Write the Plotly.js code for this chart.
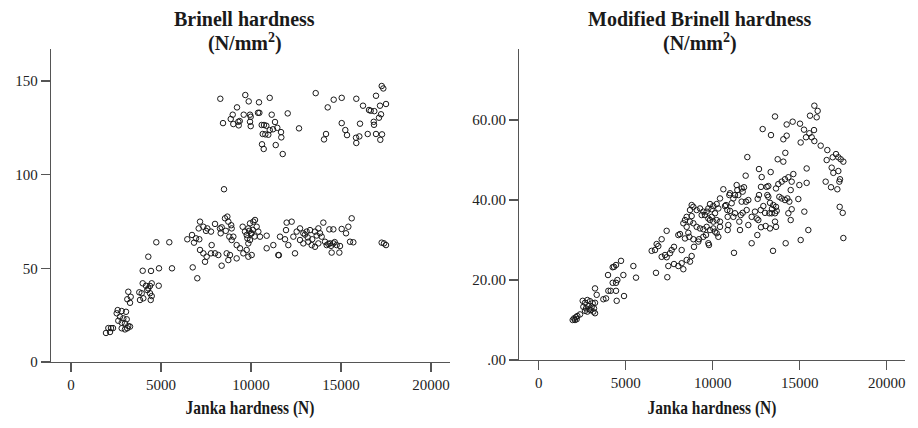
<!DOCTYPE html>
<html>
<head>
<meta charset="utf-8">
<script src="https://cdn.plot.ly/plotly-3.0.1.min.js"></script>
<style>html,body{margin:0;padding:0;background:#fff;}#chart{width:918px;height:428px;}</style>
</head>
<body>
<div id="chart"></div>
<script>
// ---------- Left panel: Brinell hardness vs Janka hardness ----------
var jankaLeft = [
  // low cluster
  1944,2074,2222,2333,2167, 2594,2817,3056,2539,2722,2906,3095,2628,2817,2999,3183,3278,2817,2999,3128,
  3183,3317,3128,3278, 3795,3928,3834,4017,3983,4167,4295,4389,4484,4239,4389,4484,4428,4873,
  3983,4445,4889,4295,4739,5462,5611,
  // lower band, left part
  6462,6723,6834,6945,7128,6762,7017,7095, 8500,
  // lower band
  7167,7352,7574,7778,8000,8278,8371,8556,8686,8741,8926,8315,8797,8926,7815,7167,7352,7537,7778,8000,
  8186,8649,8834,9204,7445,8371,8741,9019,9204,9389,9537,9667,9760,9852,9945,10038,10130,10223,10315,10408,
  10501,9945,9852,9575,9852,10038,9760,10871,10871,11241,11519,11612,11945,11982,12260,11890,12075,12353,12538,12723,
  12908,13093,13279,13556,13742,13834,13927,12723,12908,13186,13371,13556,12445,13742,14019,14112,14205,14390,14575,14760,
  14945,14353,14575,15038,15408,15594,15279,15501,15686,14482,14908,17260,17390,17501,
  9900,10000,10100,9800,10200,13000,13150,13400,13650,14300,14450,14650,11550,8900,8600,7500,
  // upper cluster
  8295,8445,9223,8984,8873,9017,9295, 9684,9873,10445,11040, 9373,9317,9595,9945,9984,9945,9984,10390,10465,
  11151,12040, 10595,10723,10851, 11334,11462,11668,11684, 10651,10795,10962, 11040,11223, 10612,10706, 11373, 11762, 12668,
  13595,14262,14595,15040,15851,16223,16556,16651,16851,16945,17262,17351,17167,17501,17223,17112,16818,16834,16056,15040,
  15240,15334,14168,14057,15834,16018,15851,16484,16945,17279,17184
];
var brinellLeft = [
  15.5,18.1,18.1,18.1,16.0, 27.7,27.2,26.8,26.0,24.2,23.3,22.8,22.0,21.0,20.6,19.2,18.9,18.0,17.4,18.0,
  37.5,34.8,33.5,31.6, 37.2,36.7,33.1,34.0,42.0,40.7,39.3,40.6,42.0,38.4,36.7,35.2,33.1,40.7,
  48.7,48.6,50.0,56.2,63.9,63.9,50.0,
  65.5,67.8,63.7,66.0,65.5,50.5,44.7,71.3, 92.2,
  74.9,72.2,71.3,69.6,73.7,71.3,71.9,76.7,77.6,74.9,71.3,68.7,66.9,65.1,62.4,59.8,58.0,56.2,58.0,58.0,
  57.1,58.0,57.1,55.3,53.5,51.4,54.4,66.9,62.4,60.7,72.2,69.6,67.8,71.3,74.0,68.7,74.9,75.8,72.2,69.6,
  66.9,65.1,63.3,58.0,56.2,57.1,59.8,67.4,60.7,62.4,57.1,66.9,70.4,74.4,74.9,65.5,62.4,66.9,69.6,71.3,
  68.7,69.6,70.4,69.6,71.3,68.7,66.9,65.1,63.3,64.2,62.4,61.5,58.0,63.3,74.4,64.2,62.4,63.3,63.3,62.4,
  61.9,70.8,70.8,71.0,72.2,76.7,68.7,64.2,63.9,58.4,58.4,63.7,63.3,62.4,
  70.0,68.5,70.5,66.0,67.0,68.0,66.5,65.5,67.5,63.0,62.0,64.0,57.0,73.0,70.0,70.0,
  140.5,127.5,135.9,132.0,129.7,127.0,128.2, 142.5,139.1,138.6,141.0, 128.6,126.3,132.0,132.0,130.9,128.2,125.9,133.0,133.0,
  132.0,132.7, 126.5,126.5,126.1, 128.1,125.0,122.7,119.9, 121.7,121.5,121.3, 123.8,124.2, 116.2,113.7, 115.8, 111.0, 124.7,
  143.5,135.9,140.0,141.0,140.5,136.8,134.5,134.1,133.9,142.1,147.3,146.0,136.8,137.7,132.2,130.4,128.2,126.6,127.2,127.5,
  123.8,121.1,121.7,118.8,119.7,120.4,116.9,121.7,121.7,121.5,118.6
];

// ---------- Right panel: Modified Brinell hardness vs Janka hardness ----------
var jankaRight = [
  1953,2030,2145,2222,2087,2183,2375,
  2528,2662,2796,2950,3103,3237,2566,2720,2854,2988,3141,3237,2662,2796,2911,3045,3180,3237,3333,
  3716,3869,4003,4138,3984,4252,4329,4444,4252,4444,4521,4444,4482,4731,4866,4904,5440,5594,
  15842,16033,15593,15976,13581,12872,13351,14252,14596,15018,15248,15554,15823,15363,15689,15842,15056,14252,14060,16206,
  16589,17087,16896,17221,17356,17509,16551,16838,16934,17221,17317,17279,16493,16800,17164,17298,17471,17509,14175,13734,
  14060,15401,13332,12661,12815,11991,11895,14635,14348,14156,13964,13773,15401,14980,14539,14482,13638,13198,13102,13140,
  13198,12776,12661,13294,13485,13638,13408,13677,13830,13964,14156,14290,14405,14539,14348,14482,14922,15267,15497,15056,
  14194,13466,12910,12757,12584,13006,13255,13389,13581,13581,13638,13294,13044,12776,12565,12240,11224,12431,12240,12527,
  12623,12048,11569,11531,11608,11722,11952,11914,11665,11473,11282,11416,11665,11799,11378,11722,12048,
  10611,10956,10994,11186,11090,10994,10707,10764,10841,10860,10860,10899,11186,11282,10420,10324,10228,10036,9941,9845,
  9749,9653,9557,9462,9366,9270,9078,8887,8791,8695,8504,8408,8312,8504,8695,8887,9078,9270,9462,9653,
  9845,10036,10132,10228,10324,10420,10420,10228,10036,9845,9749,9941,10132,9615,9462,9174,8887,8657,8408,8120,
  8025,8791,8695,8504,8216,8025,7776,7450,7354,7546,7641,7258,7067,6875,6779,6683,6492,7067,7354,7776,
  8216,8312,7392,6741,9749,9787,8925,9212,8599,8791
];
var modBrinellRight = [
  10,10.4,10.7,11,10,10.2,11.4,
  14.8,14.3,15,14.7,14.2,14.3,13.3,12.9,13.5,12.5,12.1,11.7,12.3,12.1,12.7,13.3,12.9,17.9,16.3,
  15.2,15.4,17.3,17.3,21.25,23.2,23.3,23.75,19.3,19.3,20,17.3,14.8,24.8,21.25,16,23.5,20.6,
  63.6,62.3,61.1,60.7,60.9,57.75,56.25,58.9,59.6,59.1,57.6,56.7,57.5,55.7,55.7,54.75,54.4,56.1,55.2,53.6,
  52.5,51.5,50.7,50.7,50.2,49.6,50,48.1,46.8,47.25,45.2,44.6,44.6,43.2,42.7,38.3,36.8,30.5,51.8,50.2,
  49.6,47.9,47,47.75,45.75,50.75,46.1,46.5,45.7,45.2,44.6,44,44.3,43.75,44.6,42.5,42.9,43.5,43.3,41.25,
  40.8,43.3,41.25,39.3,38.75,38.3,37.8,37.3,40.8,40.4,40,40.4,39.6,37.7,36.7,35,40.25,37.1,32.5,30,
  29.2,27.3,38.5,37.5,40.3,36.8,36.7,36.7,36.7,34.6,33.3,32.9,33.5,33.2,31.25,29.2,26.8,37.1,35.8,35.4,
  35,33.75,32.5,34.6,36.25,36.8,37.5,39.6,39.6,41.25,41.25,42.5,42.9,43.2,43.75,42.1,40,
  42.7,41.25,41.7,40.4,39.2,37.3,38.5,38.75,37.5,35.8,32.5,33.75,35.8,36.7,40.4,37.9,39,38.5,37.7,39,
  37.9,37.1,36.25,37.1,36.25,37.9,37.5,38.3,38.75,37.5,35.8,35,34.2,33.3,34.6,34.2,33.3,32.9,32.7,33.3,
  32.5,32.9,32.1,31.7,30.8,33.3,34.6,35,34.6,35,35.4,35.8,36.7,31.25,30.8,29.6,30.2,30.8,30.4,31.5,
  31.25,26,24.6,25,24.2,23.5,24,23.5,25.7,26.7,27.5,26.25,25.8,28.5,29,27.5,27.3,30.2,32.3,28.3,
  27.5,22.7,20.7,21.8,29.2,28.75,28.3,30.2,31.8,36
];

var xTickVals = [0, 5000, 10000, 15000, 20000];
var xTickText = ["0", "5000", "10000", "15000", "20000"];
var yLeftTickVals = [0, 50, 100, 150];
var yLeftTickText = ["0", "50", "100", "150"];
var yRightTickVals = [0, 20, 40, 60];
var yRightTickText = [".00", "20.00", "40.00", "60.00"];

var W = 918, H = 428;
var serif = "Liberation Serif, Times New Roman, serif";
var markerStyle = {symbol: "circle-open", size: 5.5, color: "#1a1a1a", line: {width: 1, color: "#1a1a1a"}};

var traces = [
  {x: jankaLeft, y: brinellLeft, type: "scatter", mode: "markers", marker: markerStyle, xaxis: "x", yaxis: "y", hoverinfo: "x+y"},
  {x: jankaRight, y: modBrinellRight, type: "scatter", mode: "markers", marker: markerStyle, xaxis: "x2", yaxis: "y2", hoverinfo: "x+y"}
];

function axisBase() {
  return {
    showgrid: false, zeroline: false, showline: true, linecolor: "#555", linewidth: 1.3,
    ticks: "outside", ticklen: 9, tickwidth: 1.2, tickcolor: "#555",
    tickfont: {family: serif, size: 15, color: "#222"}, tickmode: "array", fixedrange: true
  };
}
var xa = Object.assign(axisBase(), {domain: [51/W, 450/W], range: [-1111, 21056], tickvals: xTickVals, ticktext: xTickText, anchor: "y"});
var xa2 = Object.assign(axisBase(), {domain: [519.3/W, 905/W], range: [-1115, 21052], tickvals: xTickVals, ticktext: xTickText, anchor: "y2"});
var ya = Object.assign(axisBase(), {domain: [66/H, 378.7/H], range: [0, 166.9], tickvals: yLeftTickVals, ticktext: yLeftTickText, anchor: "x"});
var ya2 = Object.assign(axisBase(), {domain: [68/H, 378.7/H], range: [0, 77.7], tickvals: yRightTickVals, ticktext: yRightTickText, anchor: "x2"});

function ann(text, xpx, ypx, size, name) {
  return {text: text, xref: "paper", yref: "paper", x: xpx / W, y: 1 - ypx / H,
          xanchor: "center", yanchor: "middle", showarrow: false, name: name || "",
          font: {family: serif, size: size, color: "#1a1a1a"}};
}

var layout = {
  width: W, height: H, margin: {l: 0, r: 0, t: 0, b: 0},
  paper_bgcolor: "#fff", plot_bgcolor: "#fff", showlegend: false,
  xaxis: xa, yaxis: ya, xaxis2: xa2, yaxis2: ya2,
  annotations: [
    ann("<b>Brinell hardness</b>", 245, 19, 20),
    ann("<b>(N/mm<sup>2</sup>)</b>", 245, 43, 20),
    ann("<b>Modified Brinell hardness</b>", 700, 19, 20),
    ann("<b>(N/mm<sup>2</sup>)</b>", 700, 43, 20),
    ann("<b>Janka hardness (N)</b>", 250, 408, 18, "xt"),
    ann("<b>Janka hardness (N)</b>", 712, 408, 18, "xt")
  ]
};

Plotly.newPlot("chart", traces, layout, {staticPlot: true, displayModeBar: false}).then(function () {
  // the reference draws the axis titles in a narrow (condensed) face: squeeze them horizontally
  var texts = document.querySelectorAll("#chart .annotation-text");
  texts.forEach(function (t) {
    if (t.textContent.indexOf("Janka") === 0) {
      var bb = t.getBBox();
      var cx = bb.x + bb.width / 2;
      t.setAttribute("transform", "translate(" + cx + ",0) scale(0.86,1) translate(" + (-cx) + ",0)");
    }
  });
});
</script>
</body>
</html>
